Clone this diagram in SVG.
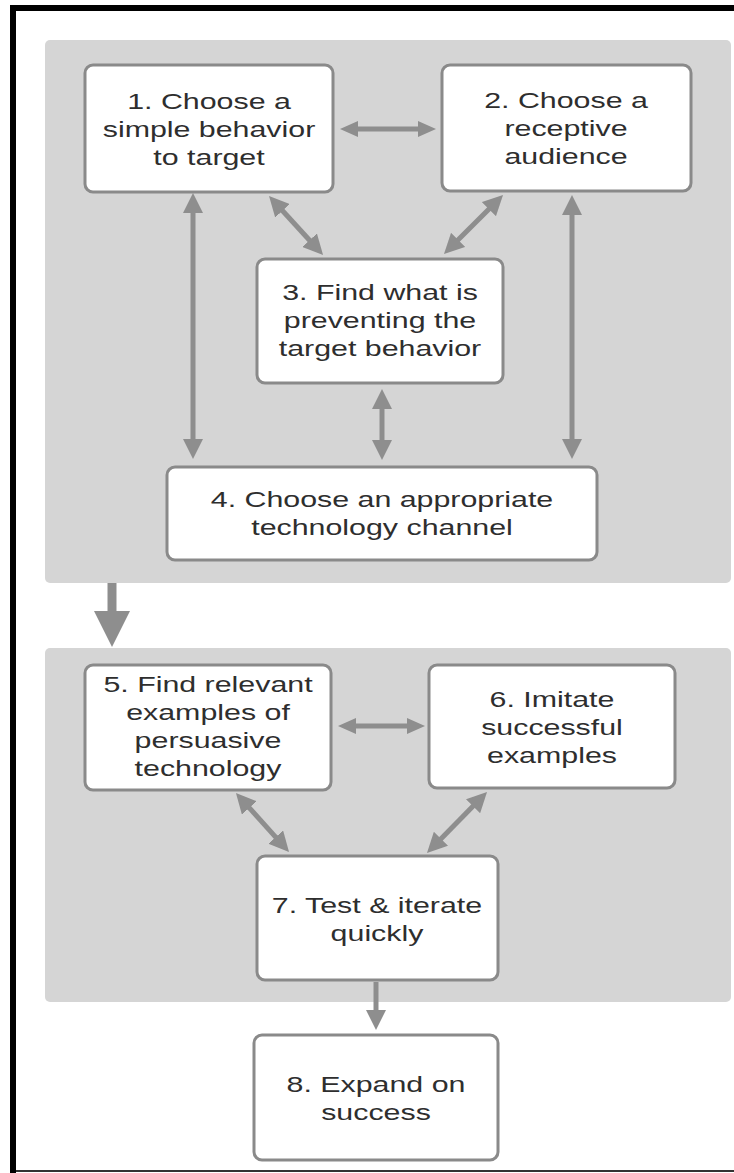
<svg xmlns="http://www.w3.org/2000/svg" width="734" height="1173" viewBox="0 0 734 1173">
  <defs>
    <style>
      .panel { fill: #d5d5d5; }
      .box { fill: #ffffff; stroke: #8a8a8a; stroke-width: 3; }
      .lbl { font-family: "Liberation Sans", Arial, sans-serif; font-size: 22px; fill: #2e2e2e; text-anchor: middle; }
      .link { stroke: #8e8e8e; stroke-width: 5; fill: none; }
      .thick { stroke: #8e8e8e; stroke-width: 9; fill: none; }
      .frame { fill: #000000; }
    </style>
    <marker id="ah" markerUnits="userSpaceOnUse" markerWidth="20" markerHeight="20" viewBox="0 0 20 20" refX="2" refY="10" orient="auto-start-reverse">
      <path d="M0,0 L20,10 L0,20 Z" fill="#8e8e8e"/>
    </marker>
    <marker id="ahs" markerUnits="userSpaceOnUse" markerWidth="18" markerHeight="16" viewBox="0 0 18 16" refX="2" refY="8" orient="auto-start-reverse">
      <path d="M0,0 L18,8 L0,16 Z" fill="#8e8e8e"/>
    </marker>
    <marker id="ahb" markerUnits="userSpaceOnUse" markerWidth="36" markerHeight="36" viewBox="0 0 36 36" refX="2" refY="18" orient="auto">
      <path d="M0,0 L36,18 L0,36 Z" fill="#8e8e8e"/>
    </marker>
  </defs>

  <rect width="734" height="1173" fill="#ffffff"/>

  <!-- outer frame -->
  <g id="frame">
    <rect class="frame" x="10" y="5" width="6" height="1168"/>
    <rect class="frame" x="10" y="5" width="724" height="6"/>
    <rect x="16" y="1170" width="718" height="2" fill="#333333"/>
  </g>

  <!-- phase panels -->
  <g id="panel-1"><rect class="panel" x="45" y="40" width="686" height="543" rx="5"/></g>
  <g id="panel-2"><rect class="panel" x="45" y="648" width="686" height="354" rx="5"/></g>

  <!-- connectors -->
  <g id="connectors">
    <line class="link" x1="356" y1="129" x2="420" y2="129" marker-start="url(#ahs)" marker-end="url(#ahs)"/>
    <line class="link" x1="281.2" y1="209.3" x2="310.9" y2="241.7" marker-start="url(#ah)" marker-end="url(#ah)"/>
    <line class="link" x1="490.3" y1="207.7" x2="456.7" y2="241.3" marker-start="url(#ah)" marker-end="url(#ah)"/>
    <line class="link" x1="193" y1="211" x2="193" y2="441" marker-start="url(#ah)" marker-end="url(#ah)"/>
    <line class="link" x1="572" y1="213" x2="572" y2="441" marker-start="url(#ah)" marker-end="url(#ah)"/>
    <line class="link" x1="382" y1="407" x2="382" y2="442" marker-start="url(#ah)" marker-end="url(#ah)"/>
    <line class="thick" x1="112" y1="583" x2="112" y2="613" marker-end="url(#ahb)"/>
    <line class="link" x1="354" y1="726" x2="409" y2="726" marker-start="url(#ahs)" marker-end="url(#ahs)"/>
    <line class="link" x1="248" y1="806.4" x2="277" y2="838.6" marker-start="url(#ah)" marker-end="url(#ah)"/>
    <line class="link" x1="474.4" y1="804.8" x2="439.6" y2="840.2" marker-start="url(#ah)" marker-end="url(#ah)"/>
    <line class="link" x1="376" y1="982" x2="376" y2="1012" marker-end="url(#ah)"/>
  </g>

  <!-- step nodes -->
  <g id="step-1">
    <rect class="box" x="85" y="65" width="248" height="127" rx="8"/>
    <g transform="translate(209 0) scale(1.38 1)">
      <text class="lbl" x="0" y="109">1. Choose a</text>
      <text class="lbl" x="0" y="137">simple behavior</text>
      <text class="lbl" x="0" y="165">to target</text>
    </g>
  </g>
  <g id="step-2">
    <rect class="box" x="442" y="65" width="249" height="126" rx="8"/>
    <g transform="translate(566 0) scale(1.38 1)">
      <text class="lbl" x="0" y="108">2. Choose a</text>
      <text class="lbl" x="0" y="136">receptive</text>
      <text class="lbl" x="0" y="164">audience</text>
    </g>
  </g>
  <g id="step-3">
    <rect class="box" x="257" y="259" width="246" height="124" rx="8"/>
    <g transform="translate(380 0) scale(1.38 1)">
      <text class="lbl" x="0" y="300">3. Find what is</text>
      <text class="lbl" x="0" y="328">preventing the</text>
      <text class="lbl" x="0" y="356">target behavior</text>
    </g>
  </g>
  <g id="step-4">
    <rect class="box" x="167" y="467" width="430" height="93" rx="8"/>
    <g transform="translate(382 0) scale(1.38 1)">
      <text class="lbl" x="0" y="507">4. Choose an appropriate</text>
      <text class="lbl" x="0" y="535">technology channel</text>
    </g>
  </g>
  <g id="step-5">
    <rect class="box" x="85" y="665" width="246" height="125" rx="8"/>
    <g transform="translate(208 0) scale(1.38 1)">
      <text class="lbl" x="0" y="692">5. Find relevant</text>
      <text class="lbl" x="0" y="720">examples of</text>
      <text class="lbl" x="0" y="748">persuasive</text>
      <text class="lbl" x="0" y="776">technology</text>
    </g>
  </g>
  <g id="step-6">
    <rect class="box" x="429" y="665" width="246" height="123" rx="8"/>
    <g transform="translate(552 0) scale(1.38 1)">
      <text class="lbl" x="0" y="707">6. Imitate</text>
      <text class="lbl" x="0" y="735">successful</text>
      <text class="lbl" x="0" y="763">examples</text>
    </g>
  </g>
  <g id="step-7">
    <rect class="box" x="257" y="856" width="241" height="124" rx="8"/>
    <g transform="translate(377 0) scale(1.38 1)">
      <text class="lbl" x="0" y="913">7. Test &amp; iterate</text>
      <text class="lbl" x="0" y="941">quickly</text>
    </g>
  </g>
  <g id="step-8">
    <rect class="box" x="254" y="1035" width="244" height="125" rx="8"/>
    <g transform="translate(376 0) scale(1.38 1)">
      <text class="lbl" x="0" y="1092">8. Expand on</text>
      <text class="lbl" x="0" y="1120">success</text>
    </g>
  </g>
</svg>
